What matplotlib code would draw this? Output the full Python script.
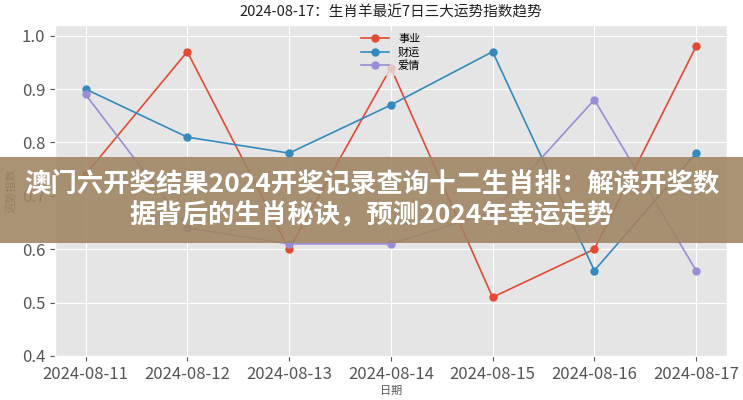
import matplotlib
matplotlib.use("Agg")
import matplotlib.pyplot as plt
from matplotlib.patches import Rectangle

plt.style.use("ggplot")
plt.rcParams["font.family"] = ["Noto Sans CJK SC", "DejaVu Sans"]

# data
dates = ["2024-08-11", "2024-08-12", "2024-08-13", "2024-08-14",
         "2024-08-15", "2024-08-16", "2024-08-17"]
career = [0.74, 0.97, 0.60, 0.94, 0.51, 0.60, 0.98]
wealth = [0.90, 0.81, 0.78, 0.87, 0.97, 0.56, 0.78]
love = [0.89, 0.64, 0.61, 0.61, 0.67, 0.88, 0.56]
yticks = [0.4, 0.5, 0.6, 0.7, 0.8, 0.9, 1.0]

fig = plt.figure(figsize=(7.43, 4.0), dpi=100)
ax = fig.add_axes([0.074, 0.11, 0.904, 0.8275])

x = range(len(dates))
ax.plot(x, career, marker="o", markersize=5, linewidth=1.2, color="#E24A33", label="事业")
ax.plot(x, wealth, marker="o", markersize=5, linewidth=1.2, color="#348ABD", label="财运")
ax.plot(x, love, marker="o", markersize=5, linewidth=1.2, color="#988ED5", label="爱情")

ax.set_xticks(list(x))
ax.set_xticklabels(dates, fontsize=12, color="#555555")
ax.set_yticks(yticks)
ax.set_yticklabels(["0.4", "0.5", "0.6", "0.7", "0.8", "0.9", "1.0"], fontsize=12, color="#555555")
ax.set_ylim(0.4, 1.02)
ax.set_xlabel("日期", fontsize=8, color="#555555", labelpad=2)
ax.set_ylabel("运势指数", fontsize=8, color="#555555")
ax.set_title("2024-08-17：生肖羊最近7日三大运势指数趋势", fontsize=10.5, color="#222222", pad=6)
ax.legend(loc="upper center", fontsize=8, frameon=True, facecolor="#E5E5E5",
          edgecolor="#E5E5E5", handlelength=2.5, borderpad=0.3, labelspacing=0.3)

# overlay banner
fig.patches.append(Rectangle((0, 1 - 243 / 400), 1, 86 / 400, transform=fig.transFigure,
                             facecolor="#9f8462", alpha=0.88, edgecolor="none", zorder=10))
fig.text(0.5, 1 - 184 / 400, "澳门六开奖结果2024开奖记录查询十二生肖排：解读开奖数",
         ha="center", va="center", fontsize=19, fontweight="bold", color="white", zorder=11)
fig.text(0.5, 1 - 216 / 400, "据背后的生肖秘诀，预测2024年幸运走势",
         ha="center", va="center", fontsize=19, fontweight="bold", color="white", zorder=11)

fig.savefig("out.png", dpi=100)
